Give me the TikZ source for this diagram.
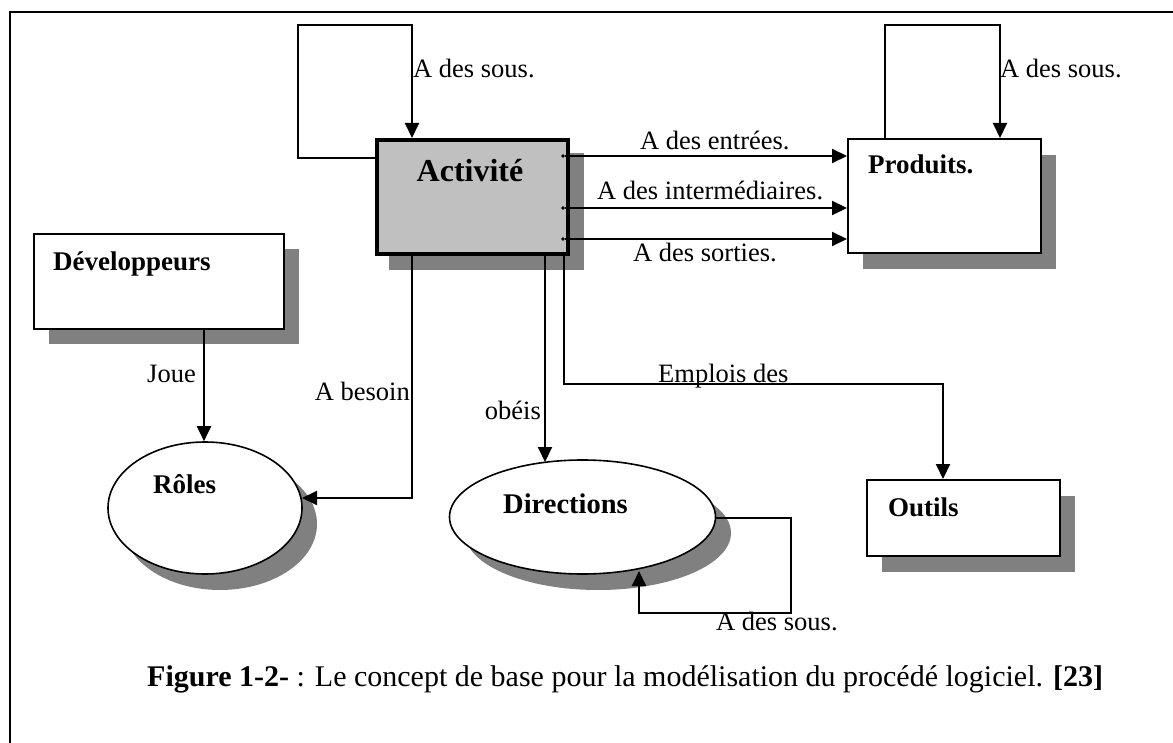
\documentclass[tikz,border=0pt]{standalone}
\usepackage{fontspec}
\setmainfont{Liberation Serif}
\usetikzlibrary{arrows.meta,shapes.geometric,calc}
\definecolor{shade}{HTML}{808080}
\definecolor{actfill}{HTML}{C0C0C0}
\tikzset{
  box/.style={draw=black, line width=1.6pt, fill=white, rectangle, inner sep=0pt, anchor=north west},
  shadowbox/.style={fill=shade, draw=none, rectangle, inner sep=0pt, anchor=north west},
  oval/.style={draw=black, line width=1.6pt, fill=white, ellipse, inner sep=0pt},
  shadowoval/.style={fill=shade, draw=none, ellipse, inner sep=0pt},
  head/.style={font=\fontsize{27}{30}\selectfont\bfseries, inner sep=0pt, anchor=base west},
  lbl/.style={font=\fontsize{26.5}{30}\selectfont, inner sep=0pt, anchor=base west},
  link/.style={line width=2pt, -{Triangle[length=15pt,width=14pt]}},
}
\begin{document}
\begin{tikzpicture}[x=1pt,y=-1pt]
\useasboundingbox (0,0) rectangle (1173,743);
% page frame
\draw[line width=1.6pt] (10,743) -- (10,12) -- (1173,12);

% shadows
\node[shadowbox, minimum width=195, minimum height=117] (actsh) at (389,153) {};
\node[shadowbox, minimum width=193, minimum height=114] (prodsh) at (863,155) {};
\node[shadowbox, minimum width=250, minimum height=95] (devsh) at (49,249) {};
\node[shadowbox, minimum width=193, minimum height=76] (outsh) at (882,496) {};
\node[shadowoval, minimum width=194, minimum height=132] (rolsh) at (220,524) {};
\node[shadowoval, minimum width=266, minimum height=114] (dirsh) at (598,533) {};

% boxes
\node[box, fill=actfill, line width=3.6pt, minimum width=191, minimum height=114] (act) at (375,138) {};
\node[box, minimum width=193, minimum height=114] (prod) at (847,138) {};
\node[box, minimum width=250, minimum height=95] (dev) at (33,233) {};
\node[box, minimum width=193, minimum height=76] (out) at (866,479) {};
\node[oval, minimum width=194, minimum height=132] (rol) at (205,508) {};
\node[oval, minimum width=266, minimum height=114] (dir) at (582.5,517) {};

% titles
\node[head, font=\fontsize{32}{34}\selectfont\bfseries, anchor=base] (actt) at (470,182) {Activité};
\node[head] (prodt) at (868,174) {Produits.};
\node[head] (devt) at (53,271) {Développeurs};
\node[head] (outt) at (888,516) {Outils};
\node[head] (rolt) at (153,493) {Rôles};
\node[head, font=\fontsize{28.5}{30}\selectfont\bfseries] (dirt) at (503,513) {Directions};

% self loops
\draw[link] (act.west |- 0,158) -- (298,158) -- (298,25) -- (412,25) -- (act.north -| 412,0);
\draw[link] (prod.north -| 885,0) -- (885,25) -- (1000,25) -- (prod.north -| 1000,0);
\draw[link] ($(dir.center)+(133,1)$) -- (791,518) -- (791,613) -- (639,613) -- ($(dir.center)+(56.5,54)$);

% Activité to Produits
\draw[link] ($(act.east |- 0,156)+(-5,0)$) -- (prod.west |- 0,156);
\draw[link] ($(act.east |- 0,208)+(-5,0)$) -- (prod.west |- 0,208);
\draw[link] ($(act.east |- 0,239)+(-5,0)$) -- (prod.west |- 0,239);
\fill (563,156) circle (1.8pt) (563,208) circle (1.8pt) (563,239) circle (1.8pt);

% downward links
\draw[link] (dev.south -| 204,0) -- (rol.north -| 204,0);
\draw[link] (act.south -| 412,0) -- (412,498) -- ($(rol.center)+(97,-10)$);
\draw[link] (act.south -| 545,0) -- ($(dir.center)+(-37.5,-55)$);
\draw[link] (act.south -| 564,0) -- (564,384) -- (943,384) -- (out.north -| 943,0);

% labels
\node[lbl] (l1) at (413,78) {A des sous.};
\node[lbl] (l2) at (1000,78) {A des sous.};
\node[lbl] (l3) at (640,150) {A des entrées.};
\node[lbl] (l4) at (597,200) {A des intermédiaires.};
\node[lbl] (l5) at (633,262) {A des sorties.};
\node[lbl] (l6) at (147,382) {Joue};
\node[lbl, anchor=base east] (l7) at (410,400) {A besoin};
\node[lbl, anchor=base east] (l8) at (541,419) {obéis};
\node[lbl] (l9) at (658,382) {Emplois des};
\node[lbl] (l10) at (716,630) {A des sous.};

% caption
\node[lbl, font=\fontsize{30}{34}\selectfont] (cap) at (147,686)
  {\textbf{Figure 1-2-} : Le concept de base pour la modélisation du procédé logiciel. \textbf{[23]}};
\end{tikzpicture}
\end{document}
